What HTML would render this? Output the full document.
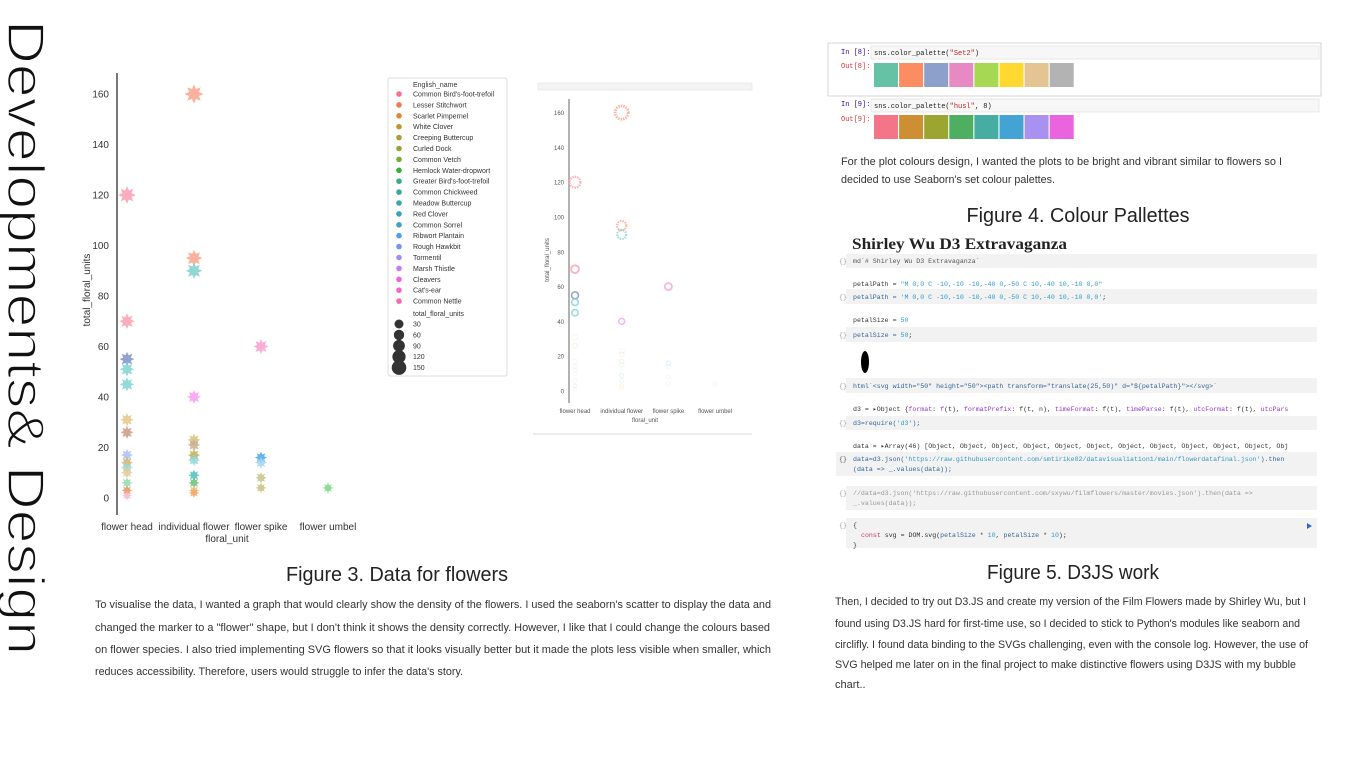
<!DOCTYPE html>
<html><head><meta charset="utf-8"><style>
html,body{margin:0;padding:0;background:#fff;}
svg{display:block;font-family:"Liberation Sans",sans-serif;}
.mono{font-family:"Liberation Mono",monospace;}
</style></head><body>
<svg id="page" width="1366" height="768" viewBox="0 0 1366 768">
<!-- Vertical title -->
<text transform="translate(8,20) rotate(90)" font-size="52" fill="#111" stroke="#fff" stroke-width="1.6" textLength="635" lengthAdjust="spacingAndGlyphs" font-family="Liberation Sans, sans-serif">Developments&amp; Design</text>

<!-- Main chart -->
<g id="main-chart"></g>

<!-- Legend -->
<g id="legend">
<rect x="388" y="78" width="119" height="298" fill="#fff" stroke="#ddd" stroke-width="1" rx="2"/>
</g>

<!-- Second small chart -->
<g id="small-chart">
<rect x="538" y="83" width="214" height="7" fill="#f4f4f4" stroke="#e2e2e2" stroke-width="0.6"/>
<line x1="533" y1="434" x2="752" y2="434" stroke="#d8d8d8" stroke-width="1"/>
</g>

<!-- Captions / text left -->
<text x="397" y="581" font-size="20" fill="#222" text-anchor="middle" textLength="222" lengthAdjust="spacingAndGlyphs">Figure 3. Data for flowers</text>
<g font-size="11" fill="#333">
<text x="95" y="608" textLength="676" lengthAdjust="spacingAndGlyphs">To visualise the data, I wanted a graph that would clearly show the density of the flowers. I used the seaborn's scatter to display the data and</text>
<text x="95" y="631" textLength="675" lengthAdjust="spacingAndGlyphs">changed the marker to a "flower" shape, but I don't think it shows the density correctly. However, I like that I could change the colours based</text>
<text x="95" y="653" textLength="676" lengthAdjust="spacingAndGlyphs">on flower species.   I also tried implementing SVG flowers so that it looks visually better but it made the plots less visible when smaller, which</text>
<text x="95" y="675" textLength="368" lengthAdjust="spacingAndGlyphs">reduces accessibility. Therefore, users would struggle to infer the data's story.</text>
</g>

<!-- Right: notebook palettes -->
<g>
<rect x="828" y="43" width="493" height="53" fill="#fff" stroke="#ccc" stroke-width="0.8"/>
<text class="mono" x="841" y="54" font-size="7" fill="#30a">In [8]:</text>
<rect x="871" y="46" width="448" height="13" fill="#f7f7f7" stroke="#ddd" stroke-width="0.6"/>
<text class="mono" x="874" y="55" font-size="7" fill="#222">sns.color_palette(<tspan fill="#b22">"Set2"</tspan>)</text>
<text class="mono" x="841" y="68" font-size="7" fill="#d33">Out[8]:</text>
<text class="mono" x="841" y="106" font-size="7" fill="#30a">In [9]:</text>
<rect x="871" y="99" width="448" height="13" fill="#f7f7f7" stroke="#ddd" stroke-width="0.6"/>
<text class="mono" x="874" y="108" font-size="7" fill="#222">sns.color_palette(<tspan fill="#b22">"husl"</tspan>, 8)</text>
<text class="mono" x="841" y="121" font-size="7" fill="#d33">Out[9]:</text>
<g id="swatches"></g>
</g>
<g font-size="11" fill="#333">
<text x="841" y="165" textLength="441" lengthAdjust="spacingAndGlyphs">For the plot colours design, I wanted the plots to be bright and  vibrant similar to flowers so I</text>
<text x="841" y="183" textLength="214" lengthAdjust="spacingAndGlyphs">decided to use Seaborn's set colour palettes.</text>
</g>
<text x="1078" y="222" font-size="20" fill="#222" text-anchor="middle" textLength="223" lengthAdjust="spacingAndGlyphs">Figure 4. Colour Pallettes</text>

<!-- D3 notebook -->
<g>
<text x="852" y="249" font-size="16" font-weight="bold" fill="#222" font-family="Liberation Serif, serif" textLength="215" lengthAdjust="spacingAndGlyphs">Shirley Wu D3 Extravaganza</text>
<g fill="#f2f2f2">
<rect x="846" y="254" width="471" height="14"/>
<rect x="846" y="289" width="471" height="15"/>
<rect x="846" y="327" width="471" height="15"/>
<rect x="846" y="378" width="471" height="15"/>
<rect x="846" y="416" width="471" height="14"/>
<rect x="836" y="452" width="481" height="24"/>
<rect x="846" y="486" width="471" height="24"/>
<rect x="846" y="518" width="471" height="30"/>
</g>
<g class="mono" font-size="6.6" fill="#333">
<text x="839" y="263" fill="#999">{}</text><text x="853" y="263" fill="#555">md`# Shirley Wu D3 Extravaganza`</text>
<text x="853" y="286">petalPath = <tspan fill="#39c">"M 0,0 C -10,-10 -10,-40 0,-50 C 10,-40 10,-10 0,0"</tspan></text>
<text x="839" y="299" fill="#999">{}</text><text x="853" y="299" fill="#369">petalPath = <tspan fill="#39c">'M 0,0 C -10,-10 -10,-40 0,-50 C 10,-40 10,-10 0,0'</tspan><tspan fill="#333">;</tspan></text>
<text x="853" y="322">petalSize = <tspan fill="#39c">50</tspan></text>
<text x="839" y="337" fill="#999">{}</text><text x="853" y="337" fill="#369">petalSize = <tspan fill="#39c">50</tspan><tspan fill="#333">;</tspan></text>
<text x="839" y="388" fill="#999">{}</text><text x="853" y="388" fill="#369">html`&lt;svg width="50" height="50"&gt;&lt;path transform="translate(25,50)" d="${petalPath}"&gt;&lt;/svg&gt;`</text>
<text x="853" y="411">d3 = ▸Object {<tspan fill="#93c">format</tspan>: <tspan fill="#93c">f</tspan>(t), <tspan fill="#93c">formatPrefix</tspan>: f(t, n), <tspan fill="#93c">timeFormat</tspan>: f(t), <tspan fill="#93c">timeParse</tspan>: f(t), <tspan fill="#93c">utcFormat</tspan>: f(t), <tspan fill="#93c">utcPars</tspan></text>
<text x="839" y="425" fill="#999">{}</text><text x="853" y="425" fill="#369">d3=require(<tspan fill="#39c">'d3'</tspan>);</text>
<text x="853" y="448">data = ▸Array(46) [Object, Object, Object, Object, Object, Object, Object, Object, Object, Object, Object, Obj</text>
<text x="839" y="461" fill="#555">{}</text><text x="853" y="461" fill="#369">data=d3.json(<tspan fill="#39c">'https://raw.githubusercontent.com/smtirike02/datavisualiation1/main/flowerdatafinal.json'</tspan>).then</text>
<text x="853" y="471" fill="#369">(data =&gt; _.values(data));</text>
<text x="839" y="495" fill="#999">{}</text><text x="853" y="495" fill="#999">//data=d3.json('https://raw.githubusercontent.com/sxywu/filmflowers/master/movies.json').then(data =&gt;</text>
<text x="853" y="505" fill="#999">_.values(data));</text>
<text x="839" y="527" fill="#999">{}</text><text x="853" y="527">{</text>
<text x="861" y="537"><tspan fill="#c36">const</tspan> svg = DOM.svg(<tspan fill="#369">petalSize</tspan> * <tspan fill="#39c">10</tspan>, <tspan fill="#369">petalSize</tspan> * <tspan fill="#39c">10</tspan>);</text>
<text x="853" y="547">}</text>
</g>
<ellipse cx="865" cy="362" rx="4" ry="11" fill="#000"/>
<path d="M1307,523 l5,3 l-5,3 z" fill="#36c"/>
</g>
<text x="1073" y="579" font-size="20" fill="#222" text-anchor="middle" textLength="172" lengthAdjust="spacingAndGlyphs">Figure 5. D3JS work</text>
<g font-size="11" fill="#333">
<text x="835" y="605" textLength="471" lengthAdjust="spacingAndGlyphs">Then, I decided to try out D3.JS and create my version of the Film Flowers made by Shirley Wu, but I</text>
<text x="835" y="627" textLength="465" lengthAdjust="spacingAndGlyphs">found using D3.JS hard for first-time use, so I decided to stick to Python's modules like seaborn and</text>
<text x="835" y="648" textLength="473" lengthAdjust="spacingAndGlyphs">circlifly. I found data binding to the SVGs challenging, even with the console log. However, the use of</text>
<text x="835" y="668" textLength="461" lengthAdjust="spacingAndGlyphs">SVG helped me later on in the final project to make distinctive flowers using D3JS with my bubble</text>
<text x="835" y="688">chart..</text>
</g>
</svg>
<script>
const NS='http://www.w3.org/2000/svg';
// ---- data ----
const categories=['flower head','individual flower','flower spike','flower umbel'];
const pointCats=[0,0,0,0,0,0,0,0,0,0,0,0,0,0, 1,1,1,1,1,1,1,1,1,1,1,1, 2,2,2,2,2, 3];
const pointValues=[120,70,55,51,45,31,26,17,14,12,10,6,3,1, 160,95,90,40,23,21,17,15,9,6,3,2, 60,16,14,8,4, 4];
const pointColors=['#fb9fb0','#fb9fb0','#7f93c7','#7fd3d3','#7fd3d3','#e4c586','#cf9a84','#a9bdf7','#d6b36a','#9ad8d6','#e4c994','#8fdcb0','#e0955c','#f9b7c2',
 '#f7a58c','#f7a58c','#7fd0cc','#f6a0f4','#d8c27c','#c9ab90','#bfae52','#8fd8d8','#4fc1b8','#6cc07a','#e6bf7a','#f0a86a',
 '#fb9fd0','#45a7e8','#9fd4ee','#c5c486','#c8c280', '#7cd68a'];
const yTicks=[0,20,40,60,80,100,120,140,160];
const legendNames=["Common Bird's-foot-trefoil","Lesser Stitchwort","Scarlet Pimpernel","White Clover","Creeping Buttercup","Curled Dock","Common Vetch","Hemlock Water-dropwort","Greater Bird's-foot-trefoil","Common Chickweed","Meadow Buttercup","Red Clover","Common Sorrel","Ribwort Plantain","Rough Hawkbit","Tormentil","Marsh Thistle","Cleavers","Cat's-ear","Common Nettle"];
const legendColors=['#f77189','#f7754f','#e5862f','#c39532','#ae9d31','#97a431','#77ab31','#33b039','#36ad7f','#37aa9d','#38a8ae','#39a5bc','#3ca2c8','#4e9ef2','#7794f4','#a38cf4','#cc7af4','#f45fe7','#f565cc','#f66bad'];
const sizeLabels=[30,60,90,120,150];
const setPalette=['#66c2a5','#fc8d62','#8da0cb','#e78ac3','#a6d854','#ffd92f','#e5c494','#b3b3b3'];
const huslPalette=['#f37587','#ce8e34','#9ba52f','#4eae61','#47aca2','#43a3d2','#a991f2','#ea63df'];

function el(tag,attrs,parent){const e=document.createElementNS(NS,tag);for(const k in attrs)e.setAttribute(k,attrs[k]);parent.appendChild(e);return e;}
function starPts(cx,cy,R,r,n){let p=[];for(let i=0;i<2*n;i++){const a=Math.PI*i/n-Math.PI/2;const rr=i%2?r:R;p.push((cx+rr*Math.cos(a)).toFixed(1)+','+(cy+rr*Math.sin(a)).toFixed(1));}return p.join(' ');}

// ---- main chart ----
(function(){
const g=document.getElementById('main-chart');
const y=v=>498-v*(404/160);
const x=i=>127+i*67;
const ax=el('line',{x1:117,y1:73,x2:117,y2:515,stroke:'#777','stroke-width':2},g);

yTicks.forEach(t=>{const tx=el('text',{x:109,y:y(t)+3.5,'font-size':10,fill:'#333','text-anchor':'end'},g);tx.textContent=t;
});
categories.forEach((c,i)=>{const tx=el('text',{x:x(i),y:530,'font-size':10,fill:'#333','text-anchor':'middle'},g);tx.textContent=c;
});
const xt=el('text',{x:227,y:542,'font-size':10,fill:'#333','text-anchor':'middle'},g);xt.textContent='floral_unit';

const yt=el('text',{transform:'translate(90,290) rotate(-90)','font-size':10,fill:'#333','text-anchor':'middle'},g);yt.textContent='total_floral_units';

pointValues.forEach((v,i)=>{const R=4.5+Math.sqrt(v)*0.4;
const s=el('polygon',{points:starPts(x(pointCats[i]),y(v),R,R*0.55,8),fill:pointColors[i],'fill-opacity':0.85},g);
});
})();

// ---- legend ----
(function(){
const g=document.getElementById('legend');
const h=el('text',{x:413,y:87,'font-size':7,fill:'#333'},g);h.textContent='English_name';
legendNames.forEach((n,i)=>{const yy=94+i*10.9;
const c=el('circle',{cx:399,cy:yy,r:2.8,fill:legendColors[i]},g);

const t=el('text',{x:413,y:yy+2.5,'font-size':7,fill:'#333'},g);t.textContent=n;
});
const h2=el('text',{x:413,y:316,'font-size':7,fill:'#333'},g);h2.textContent='total_floral_units';
sizeLabels.forEach((s,i)=>{const yy=324+i*10.9;
const c=el('circle',{cx:399,cy:yy,r:4.5+i*0.7,fill:'#333'},g);

const t=el('text',{x:413,y:yy+2.5,'font-size':7,fill:'#333'},g);t.textContent=s;
});
})();

// ---- small chart ----
(function(){
const g=document.getElementById('small-chart');
const y=v=>391-v*(278.4/160);
const x=i=>575+i*46.7;
const ax=el('line',{x1:569,y1:99,x2:569,y2:403,stroke:'#999','stroke-width':1.5},g);

yTicks.forEach(t=>{const tx=el('text',{x:564,y:y(t)+2.5,'font-size':6,fill:'#555','text-anchor':'end'},g);tx.textContent=t;
});
categories.forEach((c,i)=>{const tx=el('text',{x:x(i),y:413,'font-size':6,fill:'#555','text-anchor':'middle'},g);tx.textContent=c;
});
const xt=el('text',{x:645,y:422,'font-size':6,fill:'#555','text-anchor':'middle'},g);xt.textContent='floral_unit';

const yt=el('text',{transform:'translate(549,260) rotate(-90)','font-size':6,fill:'#555','text-anchor':'middle'},g);yt.textContent='total_floral_units';

pointValues.forEach((v,i)=>{const R=1.8+v*0.03;const op=v>=40?0.8:0.12;
const c=el('circle',{cx:x(pointCats[i]),cy:y(v),r:R,fill:'none',stroke:pointColors[i],'stroke-width':1+v*0.012,'stroke-opacity':op,'stroke-dasharray':v>80?'1.5 1':'none'},g);
});
})();

// ---- swatches ----
(function(){
const g=document.getElementById('swatches');
setPalette.forEach((c,i)=>{const r=el('rect',{x:874+i*25.1,y:63,width:24,height:24,fill:c},g);
});
huslPalette.forEach((c,i)=>{const r=el('rect',{x:874+i*25.1,y:115,width:24,height:24,fill:c},g);
});
})();
</script>
</body></html>
